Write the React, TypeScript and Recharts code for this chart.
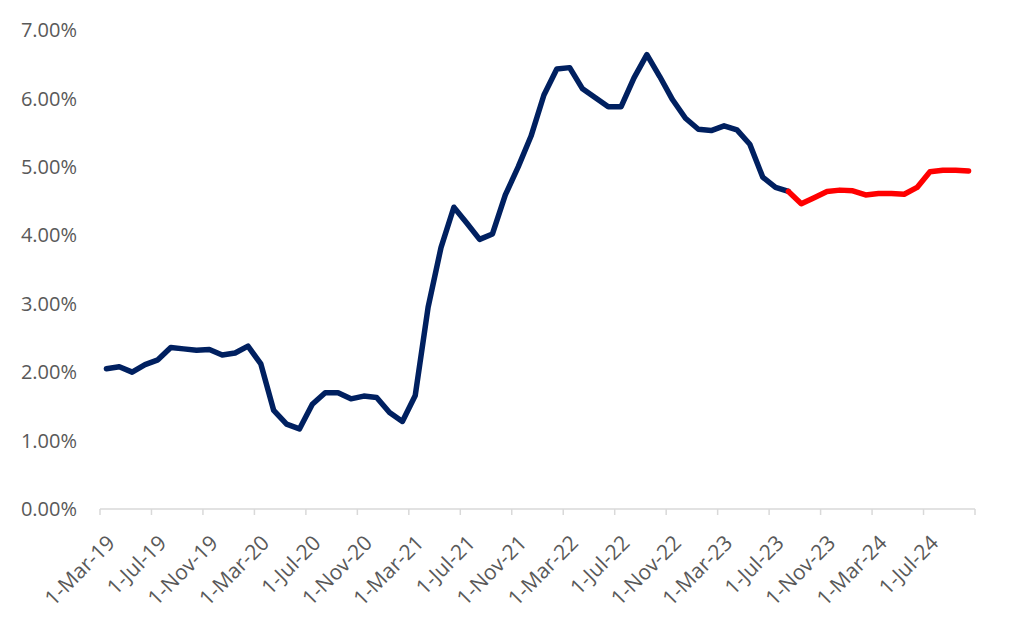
import { LineChart, Line, XAxis, YAxis } from 'recharts';

// Monthly categories, Mar-19 .. Oct-24
const months = [
  '1-Mar-19', '1-Apr-19', '1-May-19', '1-Jun-19', '1-Jul-19', '1-Aug-19', '1-Sep-19', '1-Oct-19', '1-Nov-19', '1-Dec-19',
  '1-Jan-20', '1-Feb-20', '1-Mar-20', '1-Apr-20', '1-May-20', '1-Jun-20', '1-Jul-20', '1-Aug-20', '1-Sep-20', '1-Oct-20', '1-Nov-20', '1-Dec-20',
  '1-Jan-21', '1-Feb-21', '1-Mar-21', '1-Apr-21', '1-May-21', '1-Jun-21', '1-Jul-21', '1-Aug-21', '1-Sep-21', '1-Oct-21', '1-Nov-21', '1-Dec-21',
  '1-Jan-22', '1-Feb-22', '1-Mar-22', '1-Apr-22', '1-May-22', '1-Jun-22', '1-Jul-22', '1-Aug-22', '1-Sep-22', '1-Oct-22', '1-Nov-22', '1-Dec-22',
  '1-Jan-23', '1-Feb-23', '1-Mar-23', '1-Apr-23', '1-May-23', '1-Jun-23', '1-Jul-23', '1-Aug-23', '1-Sep-23', '1-Oct-23', '1-Nov-23', '1-Dec-23',
  '1-Jan-24', '1-Feb-24', '1-Mar-24', '1-Apr-24', '1-May-24', '1-Jun-24', '1-Jul-24', '1-Aug-24', '1-Sep-24', '1-Oct-24',
];

// Actual rate (%), Mar-19 .. Aug-23
const actualRate = [
  2.05, 2.08, 2.0, 2.11, 2.18, 2.36, 2.34, 2.32, 2.33, 2.25,
  2.28, 2.38, 2.12, 1.44, 1.24, 1.17, 1.53, 1.7, 1.7, 1.61, 1.65, 1.63,
  1.41, 1.28, 1.66, 2.95, 3.82, 4.41, 4.18, 3.94, 4.02, 4.59, 5.0, 5.45,
  6.05, 6.43, 6.45, 6.14, 6.01, 5.88, 5.88, 6.3, 6.64, 6.32, 5.98, 5.71,
  5.55, 5.53, 5.6, 5.54, 5.33, 4.85, 4.7, 4.64,
];

// Forecast rate (%), Aug-23 .. Oct-24 (joins the actual line at Aug-23)
const forecastStart = 53;
const forecastRate = [
  4.64, 4.46, 4.55, 4.64, 4.66, 4.65, 4.59, 4.61, 4.61, 4.6, 4.7, 4.93, 4.95, 4.95, 4.94,
];

const xTicks = [0, 4, 8, 12, 16, 20, 24, 28, 32, 36, 40, 44, 48, 52, 56, 60, 64, 68];
const yTicks = [0, 1, 2, 3, 4, 5, 6, 7];

// points sit in the middle of each month slot, ticks on the slot edges
const data = months.map((month, i) => ({
  month,
  pos: i + 0.5,
  actual: i < actualRate.length ? actualRate[i] : null,
  forecast: i >= forecastStart ? forecastRate[i - forecastStart] : null,
}));

const FONT = '"Open Sans", "Liberation Sans", sans-serif';
const TEXT = '#595959';

function MonthTick({ x, y, payload }: { x?: number; y?: number; payload?: { value: number } }) {
  const label = months[payload?.value ?? -1];
  if (!label) return null;
  return (
    <g transform={`translate(${(x ?? 0) + 11},${(y ?? 0) + 22})`}>
      <text textAnchor="end" transform="rotate(-45)" dy="0.35em" fill={TEXT} fontSize={21} fontFamily={FONT}>
        {label}
      </text>
    </g>
  );
}

export default function App() {
  return (
    <div style={{ width: 1008, height: 616, fontFamily: FONT }}>
      <LineChart width={1008} height={616} data={data} margin={{ top: 22, right: 41, bottom: 15, left: 0 }}>
        <XAxis
          dataKey="pos"
          type="number"
          domain={[0, 68]}
          ticks={xTicks}
          interval={0}
          height={100}
          stroke="#d9d9d9"
          strokeWidth={1.5}
          tickSize={6}
          tick={<MonthTick />}
        />
        <YAxis
          type="number"
          domain={[0, 7]}
          ticks={yTicks}
          width={92}
          axisLine={false}
          tickLine={false}
          tickSize={0}
          tickMargin={23}
          tick={{ fill: TEXT, fontSize: 20, fontFamily: FONT }}
          tickFormatter={(v: number) => `${v.toFixed(2)}%`}
        />
        <Line
          dataKey="actual"
          stroke="#002060"
          strokeWidth={5.5}
          strokeLinejoin="round"
          strokeLinecap="round"
          dot={false}
          connectNulls={false}
          isAnimationActive={false}
        />
        <Line
          dataKey="forecast"
          stroke="#ff0000"
          strokeWidth={5.5}
          strokeLinejoin="round"
          strokeLinecap="round"
          dot={false}
          connectNulls={false}
          isAnimationActive={false}
        />
      </LineChart>
    </div>
  );
}
